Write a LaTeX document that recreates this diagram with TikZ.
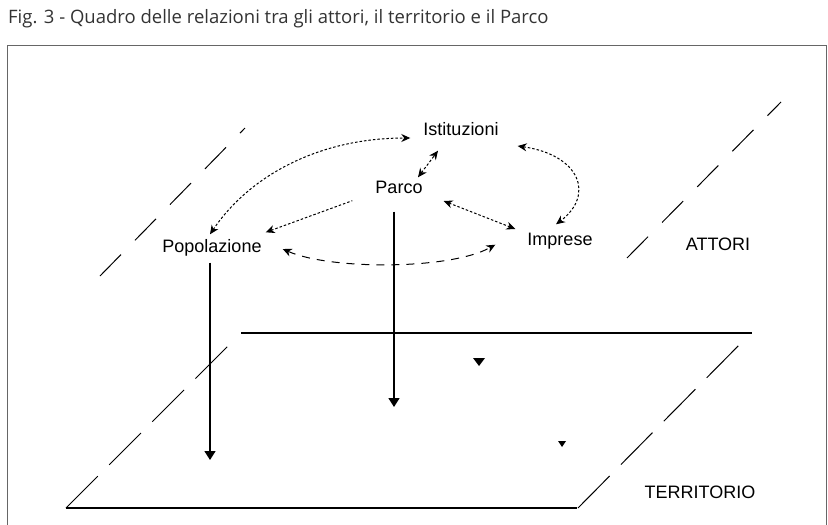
\documentclass[tikz,border=0pt]{standalone}
\usepackage{fontspec}
\setmainfont{Liberation Sans}
\newfontfamily\captionfont{Open Sans}
\usetikzlibrary{arrows.meta,calc}

\begin{document}
\begin{tikzpicture}[x=1pt, y=-1pt,
    actor/.style={font=\fontsize{18}{20}\selectfont, inner sep=0pt, text height=13pt, text depth=4pt},
    plane/.style={line width=1.8pt},
    planeedge/.style={line width=1pt, dash pattern=on 30pt off 20pt},
    relation/.style={>={Stealth[length=9pt,width=8pt]}, <->, line width=1pt, dash pattern=on 2.5pt off 2pt},
    descent/.style={>={Triangle[length=9pt,width=11pt]}, ->, line width=1.6pt}]

    \useasboundingbox (0,0) rectangle (828,525);

    % ================= TITLE AND FRAME =================
    \node[anchor=base west, inner sep=0pt, text=black!80, font=\captionfont\fontsize{18.5}{20}\selectfont] (title) at (8,23)
        {Fig. 3 - Quadro delle relazioni tra gli attori, il territorio e il Parco};
    \draw[black!60, line width=0.8pt] (7,525) -- (7,45) -- (826,45) -- (826,525);

    % ================= LOWER PLANE (TERRITORIO) =================
    \draw[plane] (66,508) -- (577,508);
    \draw[plane] (241,333) -- (752,333);
    \draw[planeedge, dash pattern=on 45pt off 16pt] (66,508) -- (233,341);
    \draw[planeedge, dash pattern=on 45pt off 16pt] (578,508) -- (748,336);
    \node[actor] (terr) at (700,494) {TERRITORIO};

    % ================= UPPER PLANE (ATTORI) =================
    \draw[planeedge] (100,276) -- (245,128);
    \draw[planeedge] (627,258) -- (781,102);
    \node[actor] (attori) at (718,246) {ATTORI};

    % Actors
    \node[actor] (ist) at (461,131) {Istituzioni};
    \node[actor] (parco) at (399,189) {Parco};
    \node[actor] (pop) at (212,248) {Popolazione};
    \node[actor] (imp) at (560,241) {Imprese};

    % ================= RELATIONS =================
    \draw[relation] ($(parco.north)+(19,-3)$) -- ($(ist.south)+(-23,11)$);
    \draw[relation] ($(pop.north)+(-2,-5)$) .. controls (250,175) and (320,138) .. ($(ist.west)+(-13,7)$);
    \draw[relation] ($(ist.east)+(19,15)$) .. controls (580,155) and (595,195) .. ($(imp.north)+(-4,-8)$);
    \draw[relation] ($(parco.east)+(21,12)$) -- ($(imp.west)+(-12,-12)$);
    \draw[relation, <-] ($(pop.north east)+(4,-7)$) -- ($(parco.south west)+(-23,3)$);
    \draw[relation, dash pattern=on 8pt off 7pt] ($(pop.east)+(21,1)$) .. controls (330,270) and (450,270) .. ($(imp.south west)+(-32,-5)$);

    % ================= DESCENT TO THE TERRITORY =================
    \coordinate (popT) at (210,460);
    \coordinate (parcoT) at (394,407);
    \draw[descent] ($(pop.south)+(-2,6)$) -- (popT);
    \draw[descent] ($(parco.south)+(-5,14)$) -- (parcoT);

    % Marks on the territory
    \fill (473,358) -- (485,358) -- (479,366) -- cycle;
    \fill (558,441) -- (566,441) -- (562,447) -- cycle;

\end{tikzpicture}
\end{document}
